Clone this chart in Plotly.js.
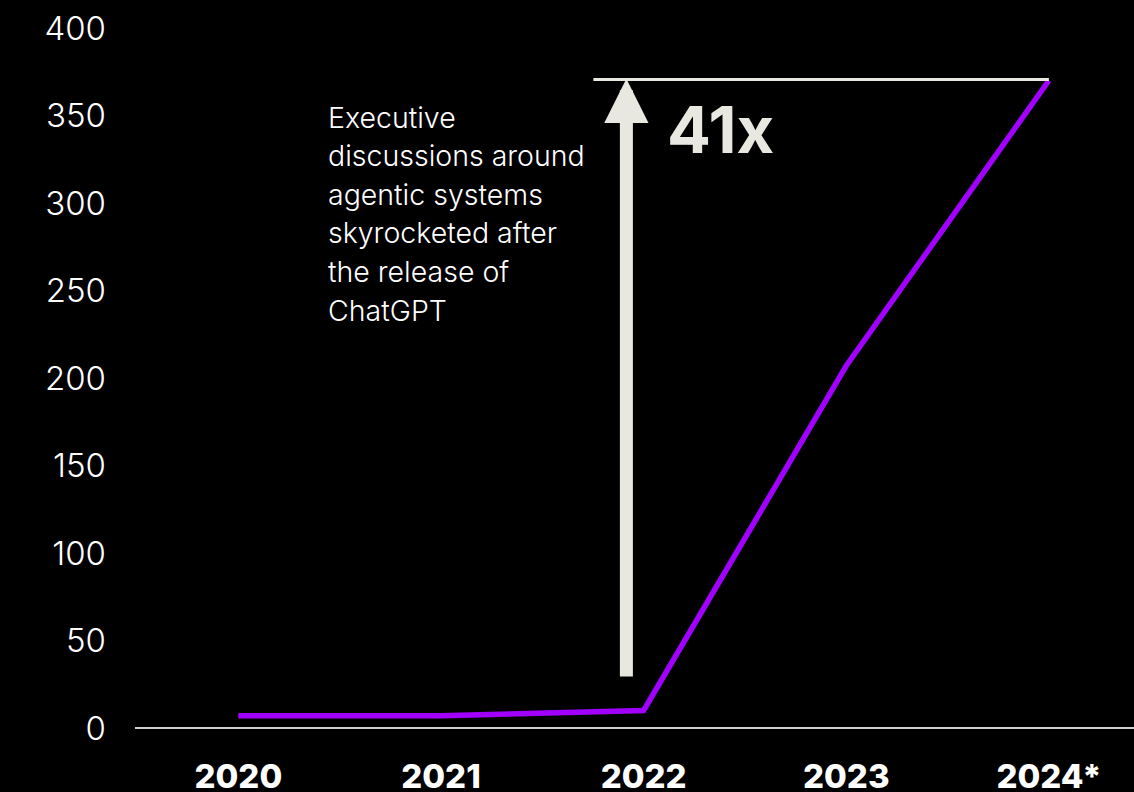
<!DOCTYPE html>
<html>
<head>
<meta charset="utf-8">
<script src="https://cdn.plot.ly/plotly-3.0.1.min.js"></script>
<style>
  html, body { margin: 0; padding: 0; background: #000; }
  #chart { width: 1134px; height: 792px; }
</style>
</head>
<body>
<div id="chart"></div>
<script>
// ---- data ----
const years = ['2020', '2021', '2022', '2023', '2024*'];
const discussions = [7, 7, 10, 207, 370];
const yTicks = [0, 50, 100, 150, 200, 250, 300, 350, 400];
const noteLines = [
  'Executive',
  'discussions around',
  'agentic systems',
  'skyrocketed after',
  'the release of',
  'ChatGPT'
];
const multipleLabel = '41x';

// ---- styles ----
const PURPLE = '#a100ff';
const CREAM = '#e8e8e0';
const FONT = 'Inter, "Open Sans", "DejaVu Sans", sans-serif';

const trace = {
  type: 'scatter',
  mode: 'lines',
  x: years,
  y: discussions,
  line: { color: PURPLE, width: 5.5 },
  hoverinfo: 'skip'
};

const annotations = [];
noteLines.forEach((t, i) => {
  annotations.push({
    xref: 'x', yref: 'y',
    x: 0.435, y: 349.1 - 22.06 * i,
    xanchor: 'left', yanchor: 'middle',
    text: t, showarrow: false,
    font: { family: FONT, size: 28.5, color: '#ffffff', weight: 300 }
  });
});
annotations.push({
  xref: 'x', yref: 'y',
  x: 2.379, y: 342,
  xanchor: 'center', yanchor: 'middle',
  text: '<b>' + multipleLabel + '</b>', showarrow: false,
  font: { family: FONT, size: 65, color: CREAM, weight: 900 }
});
annotations.push({
  xref: 'x', yref: 'y', axref: 'x', ayref: 'y',
  x: 1.915, y: 371,
  ax: 1.915, ay: 28.6,
  text: '', showarrow: true,
  arrowhead: 2, arrowsize: 0.68, arrowwidth: 13, arrowcolor: CREAM,
  standoff: 0, startstandoff: 0
});

const layout = {
  width: 1134, height: 792,
  paper_bgcolor: '#000000', plot_bgcolor: '#000000',
  margin: { l: 135, r: 0, t: 28, b: 64 },
  showlegend: false,
  xaxis: {
    type: 'category',
    range: [-0.51, 4.42],
    showgrid: false, zeroline: false, showline: false,
    ticks: '',
    ticklabelstandoff: 26,
    tickfont: { family: FONT, size: 33, color: '#ffffff', weight: 800 },
    fixedrange: true
  },
  yaxis: {
    range: [0, 400],
    tickvals: yTicks,
    ticktext: yTicks.map(String),
    showgrid: false,
    zeroline: true, zerolinecolor: '#cfcfcf', zerolinewidth: 2,
    showline: false, ticks: '',
    ticklabelstandoff: 28,
    tickfont: { family: FONT, size: 33, color: '#ffffff', weight: 300 },
    fixedrange: true
  },
  shapes: [
    {
      type: 'line', xref: 'x', yref: 'y',
      x0: 1.752, x1: 4.0, y0: 370.6, y1: 370.6,
      line: { color: CREAM, width: 3 }
    }
  ],
  annotations: annotations
};

Plotly.newPlot('chart', [trace], layout, { staticPlot: true, displayModeBar: false });
</script>
</body>
</html>
